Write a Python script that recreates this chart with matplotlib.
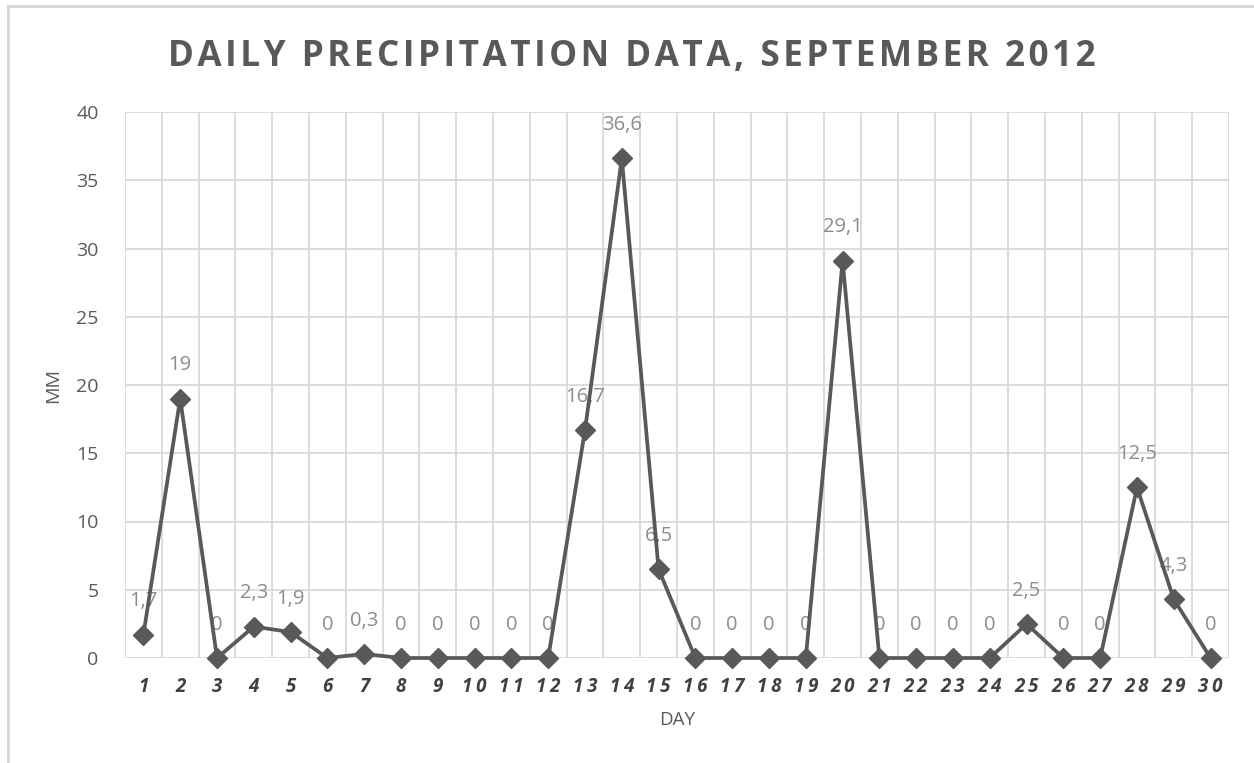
import matplotlib
matplotlib.use("Agg")
import matplotlib.pyplot as plt
from matplotlib.lines import Line2D

days = list(range(1, 31))
precip = [1.7, 19, 0, 2.3, 1.9, 0, 0.3, 0, 0, 0, 0, 0, 16.7, 36.6, 6.5,
          0, 0, 0, 0, 29.1, 0, 0, 0, 0, 2.5, 0, 0, 12.5, 4.3, 0]
day_labels = [str(d) for d in days]
title = "DAILY PRECIPITATION DATA, SEPTEMBER 2012"
y_ticks = [0, 5, 10, 15, 20, 25, 30, 35, 40]

plt.rcParams['font.family'] = ['Open Sans', 'DejaVu Sans']

fig = plt.figure(figsize=(12.54, 7.63), dpi=100)
ax = fig.add_axes([125/1254, 1-658/763, (1229-125)/1254, (658-112)/763])

grid_c = '#d9d9d9'
line_c = '#595959'
text_c = '#595959'

ax.set_xlim(0.5, 30.5)
ax.set_ylim(0, 40)
for s in ax.spines.values():
    s.set_visible(False)
for y in y_ticks:
    ax.axhline(y, color=grid_c, lw=1.3, zorder=0)
for i in range(len(days) + 1):
    ax.axvline(0.5 + i, color=grid_c, lw=1.3, zorder=0)

ax.plot(days, precip, color=line_c, lw=2.7, marker='D', markersize=10,
        markerfacecolor=line_c, markeredgecolor=line_c, zorder=3,
        clip_on=False)

for d, v in zip(days, precip):
    lbl = ('%g' % v).replace('.', ',')
    ax.annotate(lbl, (d, v), xytext=(0, 24), textcoords='offset points',
                ha='center', va='center', fontsize=14.5, color='#8c8c8c',
                zorder=2)

ax.set_yticks(y_ticks)
ax.set_yticklabels([str(t) for t in y_ticks], fontsize=14, color=text_c)
ax.set_xticks(days)
ax.set_xticklabels(['\u2009'.join(l) for l in day_labels], fontsize=13.5,
                   fontweight='bold', fontstyle='italic', color='#404040')
ax.tick_params(axis='both', length=0)
ax.tick_params(axis='y', pad=19)
ax.tick_params(axis='x', pad=14)

ax.set_xlabel('DAY', fontsize=13.5, color=text_c, labelpad=10)
ax.set_ylabel('MM', fontsize=14, color=text_c, labelpad=10)

spaced_title = '\u200a'.join(title)
fig.text(632/1254, 1-57/763, spaced_title, ha='center', va='center',
         fontsize=25.3, fontweight='bold', color=text_c)

fig.add_artist(Line2D([8/1254, 8/1254], [0, 1-6/763], color=grid_c, lw=2.2))
fig.add_artist(Line2D([8/1254, 1], [1-6/763, 1-6/763], color=grid_c, lw=2.2))

fig.savefig('out.png', dpi=100)
